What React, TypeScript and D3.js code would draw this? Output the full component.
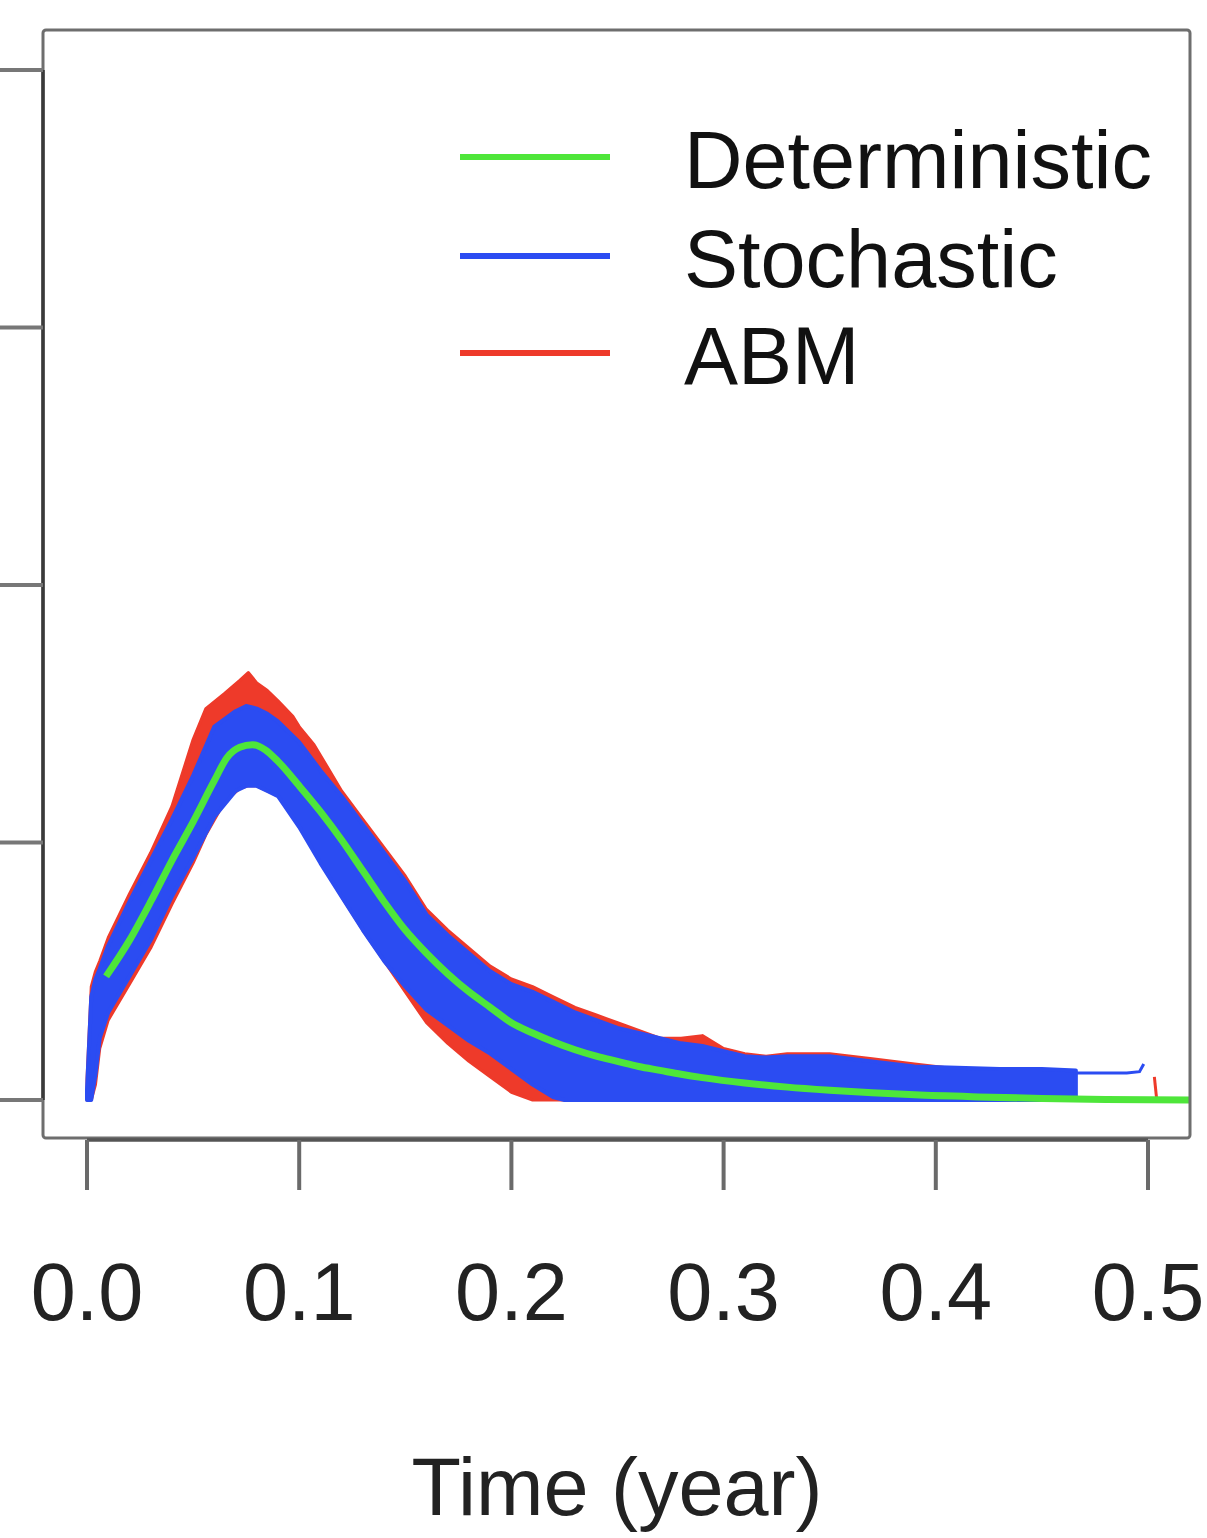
import React from "react";
import * as d3 from "d3";

// ---------- data ----------
const xTicks = [0.0, 0.1, 0.2, 0.3, 0.4, 0.5];
const yTicks = [0, 100, 200, 300, 400];

// Deterministic trajectory
const detTime = [0.009, 0.02, 0.03, 0.04, 0.05, 0.06, 0.066, 0.072, 0.078, 0.084, 0.09, 0.1, 0.11, 0.12, 0.13, 0.14, 0.15, 0.16, 0.17, 0.18, 0.19, 0.2, 0.21, 0.22, 0.23, 0.24, 0.25, 0.26, 0.27, 0.28, 0.29, 0.31, 0.33, 0.35, 0.37, 0.39, 0.42, 0.45, 0.48, 0.52];
const detValue = [48, 62, 77, 93, 108, 124, 133, 137, 138, 136, 131.5, 122, 112, 101, 89, 77, 66, 57, 49, 42, 36, 30, 26, 22.5, 19.5, 17, 15, 13, 11.5, 10, 8.7, 6.6, 5, 3.8, 2.8, 2, 1.2, 0.6, 0.2, 0];

// Stochastic envelope (band of many trajectories)
const stoTime = [0, 0.002, 0.004, 0.006, 0.01, 0.02, 0.03, 0.04, 0.05, 0.06, 0.07, 0.075, 0.08, 0.085, 0.09, 0.1, 0.11, 0.12, 0.13, 0.14, 0.15, 0.16, 0.17, 0.18, 0.19, 0.2, 0.21, 0.22, 0.225, 0.23, 0.24, 0.25, 0.26, 0.27, 0.28, 0.29, 0.3, 0.31, 0.32, 0.33, 0.35, 0.37, 0.39, 0.41, 0.43, 0.45, 0.466];
const stoUpper = [4, 40, 47, 51, 60, 77, 93, 109, 126, 145, 151, 153, 152, 150, 147, 139, 128, 118, 107, 96, 85, 72, 64, 57, 50, 45, 42, 38, 36, 34, 31, 28, 26, 24, 22, 21, 19, 17, 16.5, 17, 17, 15, 13, 12.5, 12, 12, 11.5];
const stoLower = [0, 0, 10, 24, 34, 48, 62, 79, 94, 110, 120, 122, 122, 120, 118, 106, 92, 79, 66, 54, 44, 35, 29, 23, 18, 12, 6, 1, 0, 0, 0, 0, 0, 0, 0, 0, 0, 0, 0, 0, 0, 0, 0, 0, 0, 0, 0];

// ABM envelope
const abmTime = [0, 0.002, 0.004, 0.006, 0.01, 0.02, 0.03, 0.04, 0.05, 0.056, 0.065, 0.072, 0.076, 0.08, 0.085, 0.09, 0.097, 0.1, 0.107, 0.12, 0.13, 0.14, 0.15, 0.16, 0.17, 0.18, 0.19, 0.2, 0.21, 0.22, 0.23, 0.24, 0.25, 0.26, 0.27, 0.28, 0.29, 0.3, 0.31, 0.32, 0.33, 0.35, 0.37, 0.39, 0.41];
const abmUpper = [8, 44, 50, 54, 63, 80, 96, 114, 140, 152, 158, 163, 166, 162, 159, 155, 149, 145, 138, 120, 109, 98, 87, 74, 66, 59, 52, 47, 44, 40, 36, 33, 30, 27, 24, 24, 25, 20, 18, 17, 18, 18, 16, 14, 12];
const abmLower = [0, 0, 6, 20, 31, 45, 59, 76, 92, 103, 116, 121, 122, 122, 120, 118, 112, 106, 97, 79, 66, 54, 42, 30, 22, 15, 9, 3, 0, 0, 0, 0, 0, 0, 0, 0, 0, 0, 0, 0, 0, 0, 0, 0, 0];

// late single trajectories (tails)
const stoTailTime = [0.466, 0.47, 0.48, 0.49, 0.496, 0.498];
const stoTailValue = [10.5, 10.5, 10.5, 10.5, 11, 14];
const abmTailTime = [0.44, 0.45, 0.455, 0.462];
const abmTailValue = [10, 11, 10.5, 9];
const abmEndTime = [0.503, 0.504];
const abmEndValue = [9, 1];

const legendLabels = ["Deterministic", "Stochastic", "ABM"];
const legendColors = ["#4ee63a", "#2b4cf2", "#ee3a2a"];

const FONT = "'Liberation Sans', Arial, Helvetica, sans-serif";

export default function App() {
  const x = d3.scaleLinear().domain([0, 0.5]).range([87, 1148]);
  const y = d3.scaleLinear().domain([0, 400]).range([1100, 70]);

  const box = { left: 43, top: 30, right: 1190, bottom: 1138 };

  const band = (t: number[], lo: number[], hi: number[]) =>
    d3
      .area<number>()
      .x((i) => x(t[i]))
      .y0((i) => y(lo[i]))
      .y1((i) => y(hi[i]))
      .curve(d3.curveLinear)(d3.range(t.length)) as string;

  const lineOf = (t: number[], v: number[], curve: d3.CurveFactory) =>
    d3
      .line<number>()
      .x((i) => x(t[i]))
      .y((i) => y(v[i]))
      .curve(curve)(d3.range(t.length)) as string;

  const [green, blue, red] = legendColors;

  return (
    <svg
      width={1207}
      height={1538}
      style={{ position: "absolute", left: 0, top: 0, background: "#fff" }}
      fontFamily={FONT}
    >
      <defs>
        <clipPath id="plotclip">
          <rect x={box.left} y={box.top} width={box.right - box.left} height={box.bottom - box.top} />
        </clipPath>
      </defs>
      <rect x={0} y={0} width={1207} height={1538} fill="#fff" />

      <g clipPath="url(#plotclip)">
        {/* ABM envelope */}
        <path d={band(abmTime, abmLower, abmUpper)} fill={red} stroke={red} strokeWidth={3} strokeLinejoin="round" />
        <path d={lineOf(abmTailTime, abmTailValue, d3.curveLinear)} fill="none" stroke={red} strokeWidth={3} />
        <path d={lineOf(abmEndTime, abmEndValue, d3.curveLinear)} fill="none" stroke={red} strokeWidth={3} />
        {/* Stochastic envelope */}
        <path d={band(stoTime, stoLower, stoUpper)} fill={blue} stroke={blue} strokeWidth={4} strokeLinejoin="round" />
        <path d={lineOf(stoTailTime, stoTailValue, d3.curveLinear)} fill="none" stroke={blue} strokeWidth={3} />
        {/* Deterministic */}
        <path d={lineOf(detTime, detValue, d3.curveMonotoneX)} fill="none" stroke={green} strokeWidth={7} strokeLinecap="butt" />
      </g>

      {/* plot box */}
      <rect
        x={box.left}
        y={box.top}
        width={box.right - box.left}
        height={box.bottom - box.top}
        fill="none"
        stroke="#6e6e6e"
        strokeWidth={3}
        rx={3}
      />

      {/* y axis (labels cropped out of the frame) */}
      <line x1={box.left} x2={box.left} y1={y(yTicks[yTicks.length - 1])} y2={y(0)} stroke="#3a3a3a" strokeWidth={3.5} />
      {yTicks.map((t) => (
        <line key={"yt" + t} x1={0} x2={box.left} y1={y(t)} y2={y(t)} stroke="#777" strokeWidth={4} />
      ))}

      {/* x axis */}
      <line x1={x(0)} x2={x(0.5)} y1={1140} y2={1140} stroke="#555" strokeWidth={3.5} />
      {xTicks.map((t) => (
        <g key={"xt" + t}>
          <line x1={x(t)} x2={x(t)} y1={1140} y2={1190} stroke="#6a6a6a" strokeWidth={4} />
          <text x={x(t)} y={1320} fontSize={81} textAnchor="middle" fill="#222">
            {t.toFixed(1)}
          </text>
        </g>
      ))}

      <text x={617} y={1515} fontSize={81} textAnchor="middle" fill="#222">
        Time (year)
      </text>

      {/* legend */}
      {legendLabels.map((lab, i) => {
        const ly = [157, 256, 353][i];
        return (
          <g key={lab}>
            <line x1={460} x2={610} y1={ly} y2={ly} stroke={legendColors[i]} strokeWidth={6} />
            <text x={684} y={ly + 31} fontSize={81} fill="#111">
              {lab}
            </text>
          </g>
        );
      })}
    </svg>
  );
}
